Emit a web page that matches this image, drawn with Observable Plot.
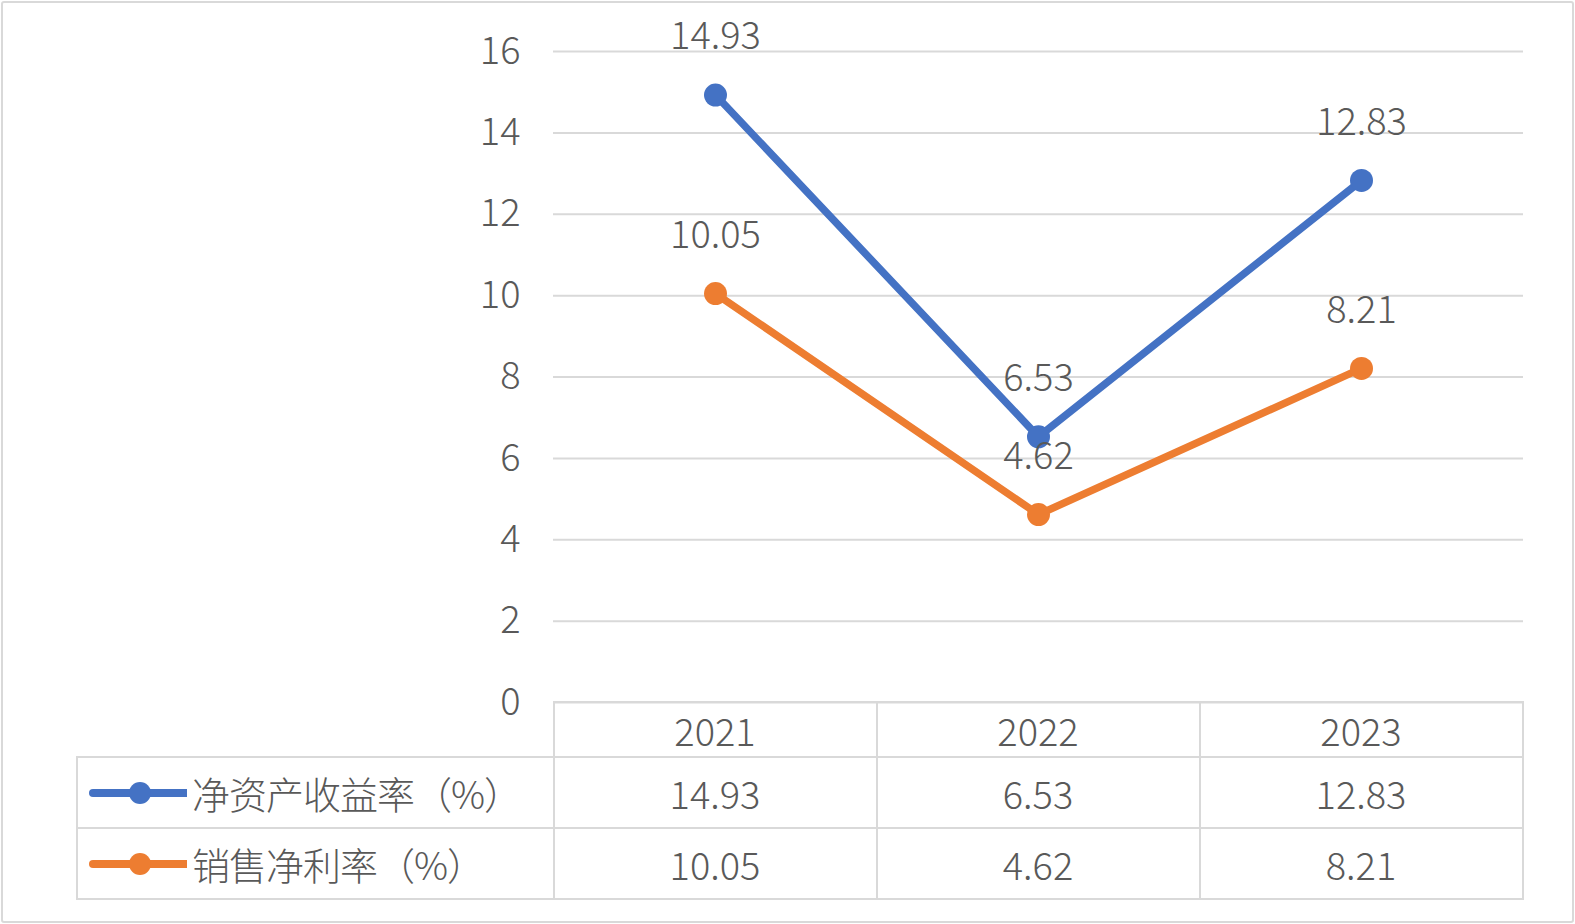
<!DOCTYPE html>
<html>
<head>
<meta charset="utf-8">
<script src="https://cdn.jsdelivr.net/npm/d3@7"></script>
<script src="https://cdn.jsdelivr.net/npm/@observablehq/plot@0.6"></script>
<style>
  html, body { margin: 0; padding: 0; background: #fff; }
  #wrap { position: relative; width: 1575px; height: 924px; overflow: hidden; font-family: "Noto Sans CJK SC", "Noto Sans", sans-serif; font-weight: 300; color: #595959; }
  #frame { position: absolute; left: 1px; top: 1px; width: 1573px; height: 922px; box-sizing: border-box; border: 2px solid #d9d9d9; border-radius: 3px; pointer-events: none; }
  #chart { position: absolute; left: 0; top: 0; }
  #chart svg text { font-weight: 300; }
  .cell { position: absolute; box-sizing: border-box; border: 2px solid #d9d9d9; display: flex; align-items: center; justify-content: center; font-size: 38px; line-height: 1; color: #595959; font-weight: 300; }
  .cell.lab { justify-content: flex-start; }
</style>
</head>
<body>
<div id="wrap"><div id="chart"></div><div id="frame"></div></div>
<script>
const years = ["2021", "2022", "2023"];
const seriesNames = ["净资产收益率（%）", "销售净利率（%）"];
const roe = [14.93, 6.53, 12.83];
const netMargin = [10.05, 4.62, 8.21];
const yTicks = [0, 2, 4, 6, 8, 10, 12, 14, 16];
const seriesColors = ["#4472C4", "#ED7D31"];

const seriesValues = [roe, netMargin];
const data = [];
seriesNames.forEach((s, si) => years.forEach((yr, i) => data.push({series: s, year: yr, value: seriesValues[si][i]})));

const W = 1575, H = 924;
const plot = Plot.plot({
  width: W,
  height: H,
  marginLeft: 553,
  marginRight: 52,
  marginTop: 51,
  marginBottom: 222,
  style: {fontFamily: '"Noto Sans CJK SC", "Noto Sans", sans-serif', fontSize: "38px", color: "#595959", background: "transparent"},
  x: {type: "point", domain: years, padding: 0.5, axis: null},
  y: {domain: [0, 16], axis: null},
  color: {domain: seriesNames, range: seriesColors},
  marks: [
    Plot.gridY(yTicks, {stroke: "#d9d9d9", strokeOpacity: 1, strokeWidth: 2}),
    Plot.axisY(yTicks, {tickSize: 0, tickPadding: 33, fontSize: 38, label: null, fill: "#595959"}),
    Plot.line(data, {x: "year", y: "value", z: "series", stroke: "series", strokeWidth: 7.5, strokeLinejoin: "round"}),
    Plot.dot(data, {x: "year", y: "value", fill: "series", r: 11.5, stroke: null}),
    Plot.text(data, {x: "year", y: "value", text: d => d.value.toFixed(2), dy: -58, fontSize: 38, fill: "#595959"})
  ]
});
document.getElementById("chart").appendChild(plot);

// Data table below the plot, aligned with the Plot scales
const xs = plot.scale("x");
const ys = plot.scale("y");
const cs = plot.scale("color");
const step = xs.step || ((xs.range[1] - xs.range[0]) / years.length);
const wrap = document.getElementById("wrap");
const tableLeft = 77;
const top0 = ys.apply(0);
const rowH = [55, 71, 71];
const rowTop = [top0, top0 + rowH[0], top0 + rowH[0] + rowH[1]];
const colLeft0 = xs.apply(years[0]) - step / 2;

function cell(left, top, width, height, content, cls) {
  const d = document.createElement("div");
  d.className = "cell" + (cls ? " " + cls : "");
  d.style.left = (left - 1) + "px";
  d.style.top = (top - 1) + "px";
  d.style.width = (width + 2) + "px";
  d.style.height = (height + 2) + "px";
  if (typeof content === "string") d.textContent = content; else if (content) d.appendChild(content);
  wrap.insertBefore(d, document.getElementById("frame"));
  return d;
}

// year row
years.forEach(yr => cell(xs.apply(yr) - step / 2, rowTop[0], step, rowH[0], yr));
// series rows
seriesNames.forEach((s, si) => {
  const frag = document.createElement("div");
  frag.style.display = "flex";
  frag.style.alignItems = "center";
  frag.style.paddingLeft = "9px";
  const sw = d3.create("svg").attr("width", 100).attr("height", 30).style("display", "block");
  sw.append("line").attr("x1", 6).attr("x2", 100).attr("y1", 15).attr("y2", 15)
    .attr("stroke", cs.apply(s)).attr("stroke-width", 8).attr("stroke-linecap", "round");
  sw.append("circle").attr("cx", 53).attr("cy", 15).attr("r", 11).attr("fill", cs.apply(s));
  frag.appendChild(sw.node());
  const t = document.createElement("span");
  t.textContent = s;
  t.style.marginLeft = "5px";
  t.style.letterSpacing = "-1px";
  frag.appendChild(t);
  cell(tableLeft, rowTop[si + 1], colLeft0 - tableLeft, rowH[si + 1], frag, "lab");
  years.forEach((yr, i) => cell(xs.apply(yr) - step / 2, rowTop[si + 1], step, rowH[si + 1], seriesValues[si][i].toFixed(2)));
});
</script>
</body>
</html>
